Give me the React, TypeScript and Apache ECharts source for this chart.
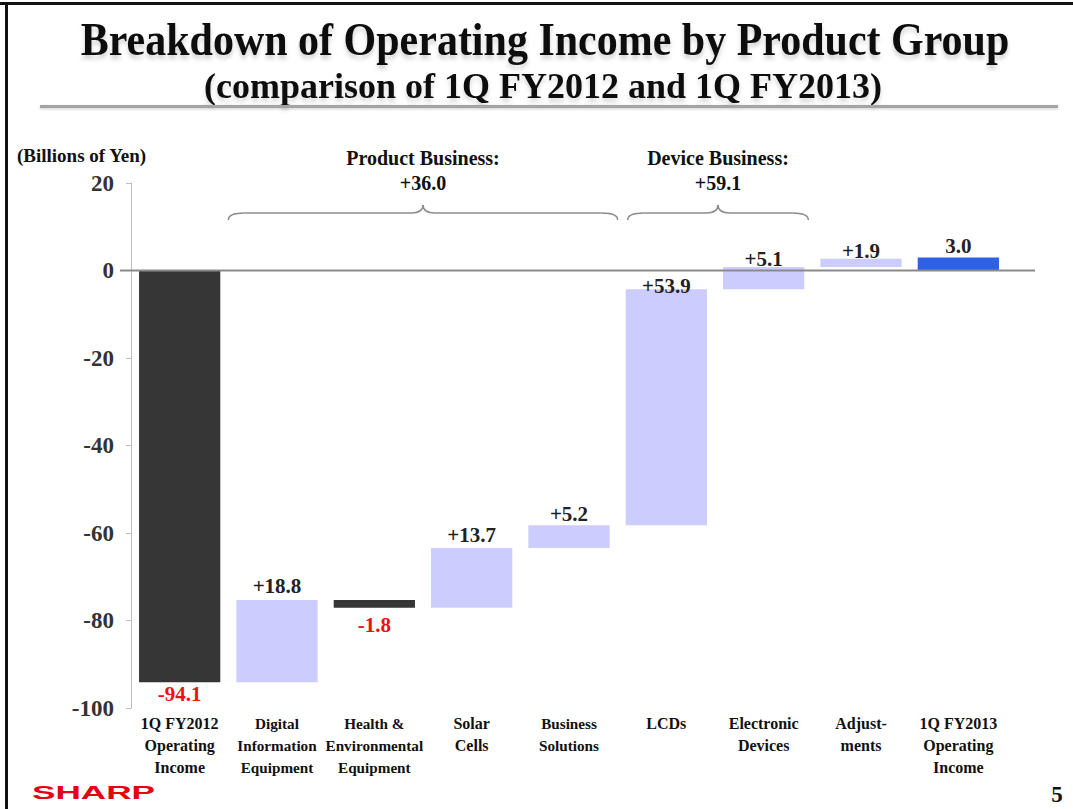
import React, { useEffect, useRef } from "react";
import * as echarts from "echarts";

// ---- data ----
const categories = [
  "1Q FY2012\nOperating\nIncome",
  "Digital\nInformation\nEquipment",
  "Health &\nEnvironmental\nEquipment",
  "Solar\nCells",
  "Business\nSolutions",
  "LCDs",
  "Electronic\nDevices",
  "Adjust-\nments",
  "1Q FY2013\nOperating\nIncome",
];
const changes = [-94.1, 18.8, -1.8, 13.7, 5.2, 53.9, 5.1, 1.9, 3.0];
const kinds = ["total", "delta", "delta", "delta", "delta", "delta", "delta", "delta", "total"];
const valueLabels = ["-94.1", "+18.8", "-1.8", "+13.7", "+5.2", "+53.9", "+5.1", "+1.9", "3.0"];
const yMin = -100;
const yMax = 20;
const yInterval = 20;
const groupNames = ["Product Business:", "Device Business:"];
const groupTotals = ["+36.0", "+59.1"];
const groupFrom = [1, 5];
const groupTo = [4, 6];

// ---- styles ----
const SERIF = "'Liberation Serif', 'Times New Roman', serif";
const labelShift = [12, 14, 17, 13, 11, 3, 8, 8, 11];
const condensedLabels = [1, 2, 4];
const bracePadL = [0, 10];
const bracePadR = [0, 4];

function buildBars() {
  const out: number[][] = [];
  let run = 0;
  changes.forEach((c, i) => {
    if (kinds[i] === "total") {
      out.push([i, Math.min(0, c), Math.max(0, c)]);
      run = c;
    } else {
      const next = run + c;
      out.push([i, Math.min(run, next), Math.max(run, next)]);
      run = next;
    }
  });
  return out;
}

function barColor(i: number) {
  if (i === changes.length - 1) return "#2d62e6";
  if (changes[i] < 0) return "#363636";
  return "#ccccff";
}

export default function App() {
  const ref = useRef<HTMLDivElement>(null);
  useEffect(() => {
    if (!ref.current) return;
    const chart = echarts.init(ref.current, null, { renderer: "svg" });
    const bars = buildBars();
    chart.setOption({
      animation: false,
      backgroundColor: "#ffffff",
      grid: { left: 131, right: 66, top: 183, bottom: 101, containLabel: false },
      xAxis: {
        type: "category",
        data: categories,
        axisLine: { show: false, onZero: false },
        axisTick: { show: false },
        axisLabel: {
          interval: 0,
          margin: 4,
          color: "#111",
          fontFamily: SERIF,
          fontWeight: "bold",
          fontSize: 16,
          lineHeight: 22,
          formatter: (val: string, idx: number) =>
            condensedLabels.includes(idx)
              ? val
                  .split("\n")
                  .map((s) => `{c|${s}}`)
                  .join("\n")
              : val,
          rich: {
            c: {
              fontFamily: SERIF,
              fontWeight: "bold",
              fontSize: 15.2,
              lineHeight: 22,
              color: "#111",
            },
          },
        },
      },
      yAxis: {
        type: "value",
        min: yMin,
        max: yMax,
        interval: yInterval,
        splitLine: { show: false },
        axisLine: { show: true, lineStyle: { color: "#bdbdbd", width: 1 } },
        axisTick: { show: true, length: 5, lineStyle: { color: "#bdbdbd" } },
        axisLabel: {
          margin: 17,
          color: "#333",
          fontFamily: SERIF,
          fontWeight: "bold",
          fontSize: 23,
        },
      },
      series: [
        {
          type: "custom",
          data: bars,
          encode: { x: 0, y: [1, 2] },
          z: 2,
          renderItem: (params: any, api: any) => {
            const i = api.value(0);
            const lo = api.value(1);
            const hi = api.value(2);
            const top = api.coord([i, hi]);
            const bot = api.coord([i, lo]);
            const w = api.size([1, 0])[0] * 0.835;
            const idx = params.dataIndex;
            const isNeg = changes[idx] < 0;
            const ty = isNeg ? bot[1] + labelShift[idx] : top[1] - labelShift[idx];
            return {
              type: "group",
              children: [
                {
                  type: "rect",
                  shape: { x: top[0] - w / 2, y: top[1], width: w, height: Math.max(1, bot[1] - top[1]) },
                  style: { fill: barColor(idx) },
                },
                {
                  type: "text",
                  x: top[0],
                  y: ty,
                  z2: 10,
                  style: {
                    text: valueLabels[idx],
                    fill: isNeg ? "#ee1111" : "#222",
                    font: `bold 21px ${SERIF}`,
                    align: "center",
                    verticalAlign: "middle",
                  },
                },
              ],
            };
          },
        },
      ],
    });

    const px = (i: number, v: number) =>
      chart.convertToPixel({ xAxisIndex: 0, yAxisIndex: 0 }, [i, v]) as number[];
    const y0 = px(0, 0)[1];
    const band = px(1, 0)[0] - px(0, 0)[0];

    const graphics: any[] = [
      { type: "rect", shape: { x: 0, y: 2, width: 1073, height: 3 }, style: { fill: "#111" }, z: 20 },
      { type: "rect", shape: { x: 5, y: 2, width: 3, height: 807 }, style: { fill: "#111" }, z: 20 },
      {
        type: "text",
        x: 545,
        y: 39,
        scaleY: 1.08,
        style: {
          text: "Breakdown of Operating Income by Product Group",
          font: `bold 42px ${SERIF}`,
          fill: "#111",
          align: "center",
          verticalAlign: "middle",
          textShadowColor: "rgba(0,0,0,0.18)",
          textShadowBlur: 4,
          textShadowOffsetY: 4,
        },
      },
      {
        type: "text",
        x: 543,
        y: 86,
        style: {
          text: "(comparison of 1Q FY2012 and 1Q FY2013)",
          font: `bold 36px ${SERIF}`,
          fill: "#111",
          align: "center",
          verticalAlign: "middle",
          textShadowColor: "rgba(0,0,0,0.15)",
          textShadowBlur: 4,
          textShadowOffsetY: 4,
        },
      },
      {
        type: "rect",
        shape: { x: 40, y: 105, width: 1018, height: 3 },
        style: { fill: "#a4a4a4", shadowColor: "rgba(0,0,0,0.2)", shadowBlur: 3, shadowOffsetY: 1 },
      },
      {
        type: "text",
        x: 17,
        y: 155,
        style: {
          text: "(Billions of Yen)",
          font: `bold 19px ${SERIF}`,
          fill: "#111",
          align: "left",
          verticalAlign: "middle",
        },
      },
      {
        type: "line",
        z: 10,
        shape: { x1: 120, y1: y0, x2: 1035, y2: y0 },
        style: { stroke: "#8a8a8a", lineWidth: 2 },
      },
      {
        type: "text",
        x: 32,
        y: 792,
        scaleX: 1.85,
        style: {
          text: "SHARP",
          font: `900 19px 'Liberation Sans', Arial, sans-serif`,
          fill: "#e50012",
          align: "left",
          verticalAlign: "middle",
        },
      },
      {
        type: "text",
        x: 1057,
        y: 794,
        style: {
          text: "5",
          font: `bold 23px ${SERIF}`,
          fill: "#111",
          align: "center",
          verticalAlign: "middle",
        },
      },
    ];

    const braceStyle = { stroke: "#8c8c8c", lineWidth: 1.5, fill: null };
    groupNames.forEach((name, g) => {
      const xl = px(groupFrom[g], 0)[0] - band / 2 + bracePadL[g];
      const xr = px(groupTo[g], 0)[0] + band / 2 - bracePadR[g];
      const xm = (xl + xr) / 2;
      const yb = 220;
      const yf = 213;
      const yp = 205;
      const r = 16;
      const m = 12;
      graphics.push(
        { type: "bezierCurve", shape: { x1: xl, y1: yb, x2: xl + r, y2: yf, cpx1: xl, cpy1: yf }, style: braceStyle },
        { type: "line", shape: { x1: xl + r, y1: yf, x2: xm - m, y2: yf }, style: braceStyle },
        { type: "bezierCurve", shape: { x1: xm - m, y1: yf, x2: xm, y2: yp, cpx1: xm, cpy1: yf }, style: braceStyle },
        { type: "bezierCurve", shape: { x1: xm, y1: yp, x2: xm + m, y2: yf, cpx1: xm, cpy1: yf }, style: braceStyle },
        { type: "line", shape: { x1: xm + m, y1: yf, x2: xr - r, y2: yf }, style: braceStyle },
        { type: "bezierCurve", shape: { x1: xr - r, y1: yf, x2: xr, y2: yb, cpx1: xr, cpy1: yf }, style: braceStyle },
        {
          type: "text",
          x: xm,
          y: 158,
          style: { text: name, font: `bold 20px ${SERIF}`, fill: "#111", align: "center", verticalAlign: "middle" },
        },
        {
          type: "text",
          x: xm,
          y: 183,
          style: { text: groupTotals[g], font: `bold 20px ${SERIF}`, fill: "#111", align: "center", verticalAlign: "middle" },
        }
      );
    });

    chart.setOption({ graphic: graphics });
    return () => chart.dispose();
  }, []);

  return (
    <div
      ref={ref}
      style={{ position: "fixed", left: 0, top: 0, width: 1073, height: 809, background: "#fff" }}
    />
  );
}
